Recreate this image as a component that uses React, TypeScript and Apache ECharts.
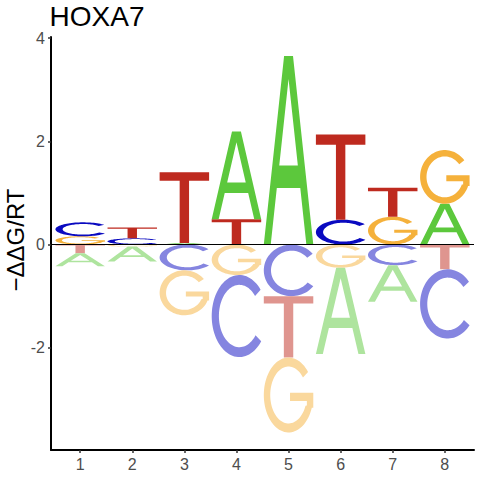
import React, { useEffect, useRef } from "react";
import * as echarts from "echarts";

// ----- data (energy logo, -ΔΔG/RT per nucleotide per position) -----
const positions = [1, 2, 3, 4, 5, 6, 7, 8];
const valuesA = [-0.25, -0.29, 0.03, 1.7, 3.65, -1.67, -0.71, 0.79];
const valuesC = [0.27, 0.12, -0.5, -1.59, -1.0, 0.48, -0.4, -1.34];
const valuesG = [0.16, -0.04, -0.87, -0.59, -1.45, -0.45, 0.54, 1.04];
const valuesT = [-0.17, 0.21, 1.37, 0.49, -1.19, 1.65, 0.56, -0.48];
const xTicks = [1, 2, 3, 4, 5, 6, 7, 8];
const yTicks = [-2, 0, 2, 4];

const baseColors = ["#5CC83C", "#0A0AC0", "#F5B13B", "#BE2A1F"];
const FONT = '"Liberation Sans", Arial, sans-serif';

// ----- glyph outlines (unit box, stretched to each letter's rectangle) -----
const deg = Math.PI / 180;
function arc(rx: number, ry: number, a0: number, a1: number, steps: number) {
  const pts: number[][] = [];
  for (let i = 0; i <= steps; i++) {
    const a = (a0 + ((a1 - a0) * i) / steps) * deg;
    pts.push([50 + rx * Math.cos(a), 50 + ry * Math.sin(a)]);
  }
  return pts;
}
function toPath(pts: number[][]) {
  return "M" + pts.map((p) => p[0].toFixed(2) + " " + p[1].toFixed(2)).join(" L") + " Z";
}
const sl = 0.41;
const PATH_A =
  toPath([
    [41, 0], [59, 0], [100, 100], [86, 100], [45 + sl * 70, 70], [55 - sl * 70, 70], [14, 100], [0, 100],
  ]) +
  " " +
  toPath([
    [50, 12.2], [55 - sl * 58, 58], [45 + sl * 58, 58],
  ]);
const PATH_C = toPath([...arc(50, 50, -40, -322, 72), ...arc(37, 38, 38, 320, 72)]);
const PATH_G = toPath([
  ...arc(50, 50, -38, -340, 72),
  [100, 67],
  [100, 47],
  [53, 47],
  [53, 58],
  [87, 58],
  [87, 64],
  ...arc(37, 38, 22, 322, 72),
]);
const PATH_T = toPath([
  [0, 0], [100, 0], [100, 12], [59.5, 12], [59.5, 100], [40.5, 100], [40.5, 12], [0, 12],
]);
const PATHS = [PATH_A, PATH_C, PATH_G, PATH_T];

function lighten(hex: string, f: number) {
  const n = parseInt(hex.slice(1), 16);
  const r = (n >> 16) & 255, g = (n >> 8) & 255, b = n & 255;
  const m = (c: number) => Math.round(c * (1 - f) + 255 * f);
  return `rgb(${m(r)},${m(g)},${m(b)})`;
}

function buildItems() {
  const all = [valuesA, valuesC, valuesG, valuesT];
  const items: number[][] = [];
  positions.forEach((x, i) => {
    const vals = all.map((arr, li) => ({ li, v: arr[i] }));
    const pos = vals.filter((d) => d.v > 0).sort((a, b) => a.v - b.v);
    const neg = vals.filter((d) => d.v < 0).sort((a, b) => b.v - a.v);
    let acc = 0;
    pos.forEach((d) => {
      items.push([x, acc, acc + d.v, d.li, 0]);
      acc += d.v;
    });
    acc = 0;
    neg.forEach((d) => {
      items.push([x, acc + d.v, acc, d.li, 1]);
      acc += d.v;
    });
  });
  return items;
}

export default function App() {
  const ref = useRef<HTMLDivElement>(null);
  useEffect(() => {
    if (!ref.current) return;
    const chart = echarts.init(ref.current, null, { renderer: "svg" });
    const items = buildItems();
    const halfW = 0.475;
    chart.setOption({
      animation: false,
      backgroundColor: "#fff",
      grid: { left: 51, right: 6, top: 37, bottom: 30, containLabel: false },
      xAxis: {
        type: "value",
        min: 0.44,
        max: 8.56,
        splitLine: { show: false },
        axisLine: { show: true, onZero: false, lineStyle: { color: "#000", width: 2 } },
        axisTick: { show: true, length: 3, lineStyle: { color: "#333", width: 1.5 }, customValues: xTicks },
        axisLabel: { customValues: xTicks, color: "#4D4D4D", fontSize: 16, margin: 6, fontFamily: FONT },
      },
      yAxis: {
        type: "value",
        min: -3.98,
        max: 4.02,
        splitLine: { show: false },
        axisLine: { show: true, onZero: false, lineStyle: { color: "#000", width: 2 } },
        axisTick: { show: true, length: 3, lineStyle: { color: "#333", width: 1.5 }, customValues: yTicks },
        axisLabel: { customValues: yTicks, color: "#4D4D4D", fontSize: 16, margin: 6, fontFamily: FONT },
      },
      graphic: [
        {
          type: "text",
          x: 49.6,
          y: 16.7,
          style: { text: "HOXA7", font: `28px ${FONT}`, fill: "#000", textAlign: "left", textVerticalAlign: "middle" },
        },
        {
          type: "text",
          x: 15.8,
          y: 240,
          rotation: Math.PI / 2,
          style: { text: "\u2212\u0394\u0394G/RT", font: `24px ${FONT}`, fill: "#000", textAlign: "center", textVerticalAlign: "middle" },
        },
      ],
      series: [
        {
          type: "custom",
          silent: true,
          clip: true,
          encode: { x: 0, y: [1, 2] },
          data: items,
          renderItem: (params: any, api: any) => {
            const x = api.value(0);
            const y0 = api.value(1);
            const y1 = api.value(2);
            const li = api.value(3);
            const neg = api.value(4);
            const p0 = api.coord([x - halfW, y1]);
            const p1 = api.coord([x + halfW, y0]);
            const h = p1[1] - p0[1];
            if (h <= 0.05) return null;
            return {
              type: "path",
              shape: {
                pathData: PATHS[li],
                x: p0[0],
                y: p0[1],
                width: p1[0] - p0[0],
                height: h,
                layout: "cover",
              },
              style: { fill: neg ? lighten(baseColors[li], 0.5) : baseColors[li] },
            };
          },
          markLine: {
            silent: true,
            symbol: ["none", "none"],
            label: { show: false },
            lineStyle: { color: "#000", width: 1, type: "solid" },
            data: [{ yAxis: 0 }],
            z: 10,
          },
        },
      ],
    });
    return () => chart.dispose();
  }, []);
  return <div ref={ref} style={{ position: "fixed", left: 0, top: 0, width: 480, height: 480 }} />;
}
